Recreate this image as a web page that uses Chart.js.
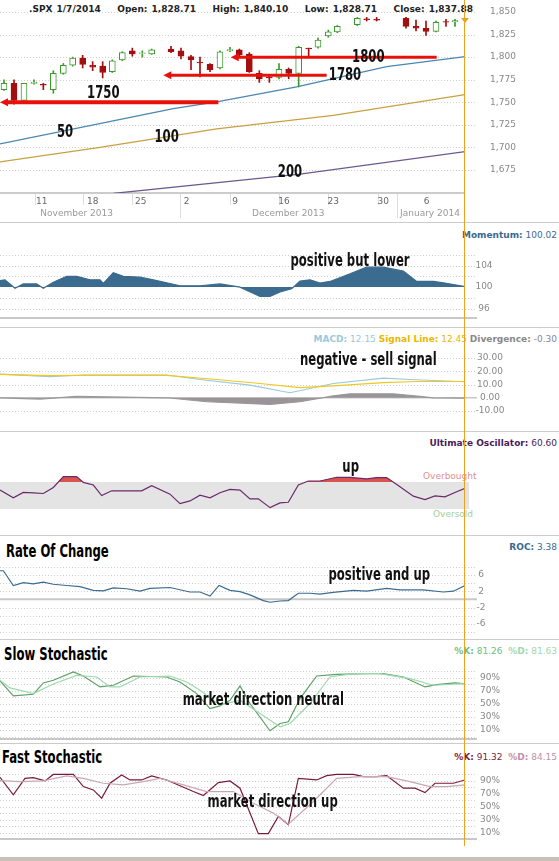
<!DOCTYPE html>
<html>
<head>
<meta charset="utf-8">
<script src="https://cdn.jsdelivr.net/npm/chart.js@4"></script>
<style>
body{margin:0;background:#fff;width:559px;height:861px;position:relative;overflow:hidden;font-family:"DejaVu Sans",Verdana,sans-serif}
canvas{position:absolute;left:0}
.t{position:absolute;font-size:9px;white-space:nowrap}
.r{right:2px}
.h{position:absolute;left:0;width:559px;height:1px;background:#ccc}
.title{position:absolute;left:6px;font:bold 18px "DejaVu Sans Condensed","DejaVu Sans",sans-serif;transform:scaleX(0.72);transform-origin:0 0;white-space:nowrap}
</style>
</head>
<body>
<div class="t" style="left:29px;top:4px;font-weight:bold;color:#222;word-spacing:1px">.SPX 1/7/2014 &nbsp;&nbsp;&nbsp;Open: 1,828.71 &nbsp;&nbsp;&nbsp;High: 1,840.10 &nbsp;&nbsp;&nbsp;Low: 1,828.71 &nbsp;&nbsp;&nbsp;Close: 1,837.88</div>
<div class="t r" style="top:230px;color:#3a6a8f"><b>Momentum:</b> 100.02</div>
<div class="t r" style="top:334px"><b style="color:#9cc8dc">MACD:</b> <span style="color:#9cc8dc">12.15</span> <b style="color:#e8b800">Signal Line:</b> <span style="color:#e8b800">12.45</span> <b style="color:#888">Divergence:</b> <span style="color:#888">-0.30</span></div>
<div class="t r" style="top:438px;color:#4a1d5a"><b>Ultimate Oscillator:</b> 60.60</div>
<div class="t r" style="top:542px;color:#3a6a8f"><b>ROC:</b> 3.38</div>
<div class="t r" style="top:646px;color:#6cbf7c"><b>%K:</b> 81.26 &nbsp;<b style="color:#9fd8b0">%D:</b> <span style="color:#9fd8b0">81.63</span></div>
<div class="t r" style="top:752px;color:#7a1a3a"><b>%K:</b> 91.32 &nbsp;<b style="color:#c090a8">%D:</b> <span style="color:#c090a8">84.15</span></div>
<div class="title" style="top:540px">Rate Of Change</div>
<div class="title" style="top:643px;left:4px">Slow Stochastic</div>
<div class="title" style="top:746px;left:2px">Fast Stochastic</div>
<div class="t" style="left:423px;top:471px;color:#e09090">Overbought</div>
<div class="t" style="left:433px;top:509px;color:#a8cf98">Oversold</div>
<div class="h" style="top:222px"></div>
<div class="h" style="top:327px"></div>
<div class="h" style="top:431px"></div>
<div class="h" style="top:535px"></div>
<div class="h" style="top:639px"></div>
<div class="h" style="top:743px"></div>
<div style="position:absolute;left:0;top:857px;width:559px;height:4px;background:#c8c0b4"></div>
<div style="position:absolute;left:464px;top:0;width:1px;height:846px;background:#f0a020;z-index:5"></div>
<div style="position:absolute;left:461px;top:18px;width:0;height:0;border-left:4px solid transparent;border-right:4px solid transparent;border-top:5px solid #f0a020;z-index:5"></div>

<canvas id="price" width="559" height="218" style="top:0"></canvas>
<canvas id="mom" width="559" height="77" style="top:242px"></canvas>
<canvas id="macd" width="559" height="79" style="top:345px"></canvas>
<canvas id="uo" width="559" height="80" style="top:450px"></canvas>
<canvas id="roc" width="559" height="76" style="top:563px"></canvas>
<canvas id="slow" width="559" height="72" style="top:668px"></canvas>
<canvas id="fast" width="559" height="70" style="top:770px"></canvas>

<script>
// x positions are slot positions along the time axis (0 .. 1395 across the plot)
var candlePos = [12,42,72,102,130,160,190,218,248,278,308,337,367,397,427,455,513,543,573,600,630,660,690,718,748,778,808,837,866,896,926,954,985,1012,1072,1100,1130,1218,1248,1278,1308,1338,1365];
var candleOpen = [1764,1771,1752,1771,1770,1764,1782,1791,1799,1791,1790,1784,1797,1807,1804,1803.5,1809,1807,1800.5,1794.5,1792,1788,1807,1808,1803.5,1782,1778,1777.5,1786.5,1782,1810,1811,1823.5,1828,1836,1842.5,1842,1843,1834,1832,1828.5,1839.5,1839];
var candleClose = [1771,1752,1771,1772,1769,1782,1791,1799,1792,1789,1783,1796,1805,1803.5,1804.5,1808,1806,1801,1797,1794,1786,1806,1808.5,1802.5,1784,1776,1777,1786.5,1782,1811,1809,1819,1828,1834,1843,1841.5,1841,1834,1832,1828.5,1838.5,1839,1840.5];
var candleHigh = [1775,1775,1771,1775,1771,1785,1793,1800,1802,1795,1795,1797,1806,1810,1807,1809,1812,1810,1802,1800,1793,1807,1811,1809,1805,1785,1780,1793,1788,1812,1810,1821,1830,1835,1844,1844,1844,1844,1841,1840,1840,1842,1842];
var candleLow = [1763,1748,1751,1770,1764,1760,1781,1790,1788,1785,1777,1783,1796,1801,1800,1803,1805,1798,1786,1778,1784,1787,1806,1801,1783,1772,1772,1776,1776,1767,1801,1810,1822,1827,1835,1840,1840,1832,1829,1824,1828,1834,1834];

var ma50Pos = [0,520,650,890,1160,1395];
var ma50 = [1704,1743,1750.4,1767,1789.4,1800.5];
var ma100Pos = [0,300,650,1000,1395];
var ma100 = [1684,1700,1720.6,1735.5,1758.5];
var ma200Pos = [340,900,1395];
var ma200 = [1649,1670.5,1695.4];

var priceTicks = [1850,1825,1800,1775,1750,1725,1700,1675];
var dayPos = [125,278,422,560,705,852,1000,1150,1280];
var dayLabels = ['11','18','25','2','9','16','23','30','6'];
var weekLinePos = [105,250,395,540,690,838,985,1135,1190];
var monthPos = [230,865,1290];
var monthLabels = ['November 2013','December 2013','January 2014'];

var momPos = [0,15,45,70,110,130,160,200,230,270,300,310,340,370,420,460,540,600,660,720,780,810,840,875,900,930,960,990,1050,1100,1150,1210,1250,1300,1330,1395];
var momVal = [101.2,101.35,99.8,100.6,100.6,99.8,100.9,102,102,101.35,101.35,100.7,102.65,102,101.85,101.35,100.25,100.25,100.6,100,98.3,98.3,99.1,99.7,101.1,101.35,100.75,101.05,102.45,103.7,103.7,102.95,101.05,101.05,100.8,100.1];

var macdPos = [0,150,250,500,600,750,870,1000,1150,1230,1395];
var macdVal = [17.9,15.9,17.2,17.2,13.8,9.5,3.8,10.8,14.9,13.8,12.1];
var sigPos = [0,150,250,500,650,780,900,1000,1150,1250,1395];
var sigVal = [17.7,16.7,16.9,16.9,13.8,10.8,7.7,9.0,11.5,12.3,12.3];
var divPos = [0,120,230,500,620,810,900,1000,1050,1180,1260,1300,1395];
var divVal = [0,-1,1,0,-3,-5,-3,1.5,3,3,1,0,-0.3];

var uoPos = [0,40,70,100,130,160,190,230,250,280,305,335,365,425,455,510,540,570,600,630,660,690,720,750,775,810,840,865,895,925,960,1010,1050,1100,1130,1160,1200,1240,1275,1305,1335,1370,1395];
var uoVal = [58,46.5,54.5,54,53,62,78,78,69.5,65.5,50,57,57,57,64.5,52,38,42,50.5,46.5,54,59,58,45,45,32,39,40,65.5,71.5,71.5,77,77,74.5,76.5,76.5,63,49,44,49.5,48,55.5,60.5];

var rocPos = [0,10,40,70,100,130,160,200,240,280,310,340,380,420,450,510,570,600,630,657,690,720,750,790,810,840,865,895,930,960,1000,1060,1100,1160,1200,1270,1330,1360,1395];
var rocVal = [7,7,3.4,4.1,3.8,4.2,3.7,3.4,3.1,2.2,2.1,2.8,2.6,2.0,2.7,2.9,1.8,1.8,0.8,3.4,2.2,1.9,1.1,-0.3,-0.7,-0.4,-0.3,1.5,1.5,1.3,1.7,2.2,2.0,2.7,2.3,2.3,1.8,2.0,3.4];

var slowKPos = [0,40,100,130,160,220,250,300,340,400,500,540,590,630,660,690,720,750,810,840,865,900,950,1010,1100,1150,1210,1275,1310,1365,1395];
var slowK = [85.4,62.4,65,82.3,86.4,99.2,93,76.2,78.8,93,91.5,83.9,66,43,47,55.8,77.8,50.7,8.9,20,22.6,58.4,93,95.6,96.6,96.6,91.5,76.2,79.8,82.3,80.8];
var slowDPos = [0,30,100,160,230,290,330,360,420,510,560,600,660,720,780,840,870,930,990,1060,1140,1230,1300,1395];
var slowD = [86.4,74.7,66,80.7,94,91.5,76.2,76.2,91.5,93,83.9,71.1,48.2,55.8,35.4,15,20,50.7,91.5,96.6,96.6,89,78.8,81.3];

var fastKPos = [0,40,75,100,135,160,220,250,280,305,330,365,390,425,455,500,580,610,655,690,720,775,805,835,865,895,950,980,1010,1060,1090,1130,1160,1210,1245,1275,1305,1360,1395];
var fastK = [95.6,68.6,94,95,90,100,100,81.3,76.2,63.5,86.4,99.2,91.5,91.5,97.7,91.5,73.7,67.6,87.4,90,78.8,9,9,35.4,22.6,94,91.5,98.2,100,100,96.6,96.6,98.2,78.8,78.8,72.1,86.4,86.4,91.5];
var fastDPos = [0,60,130,200,250,310,370,430,480,550,620,700,760,820,865,940,1010,1080,1160,1230,1290,1340,1395];
var fastD = [90.5,89,90,97.7,94,86.4,83.9,89,94,83.9,73.7,73.7,55.8,40.5,23.6,58.4,94,96.6,96.6,89,81.3,81.3,83.9];

var noteFont = 'bold 18px "DejaVu Sans Condensed","DejaVu Sans",sans-serif';

function pts(xs, ys){
    return xs.map(function(x, i){ return {x: x, y: ys[i]}; });
}

function line(xs, ys, color, extra){
    var d = {type: 'line', data: pts(xs, ys), borderColor: color, borderWidth: 1.2,
        pointRadius: 0, tension: 0, fill: false};
    for (var k in extra) d[k] = extra[k];
    return d;
}

/**
 * draws grid lines, right side labels, notes and arrows for one panel
 */
function decoPlugin(deco){
    return {
        id: 'deco',
        beforeDatasetsDraw: function(chart){
            var c = chart.ctx, a = chart.chartArea, y = chart.scales.y, x = chart.scales.x;
            c.save();
            if (deco.band){
                var t = y.getPixelForValue(deco.band[0]), b = y.getPixelForValue(deco.band[1]);
                c.fillStyle = '#e4e4e4';
                c.fillRect(a.left, t, a.right - a.left + 4, b - t);
            }
            c.strokeStyle = '#d0d0d0';
            c.lineWidth = 1;
            c.setLineDash([1, 2]);
            (deco.grid || []).forEach(function(v){
                var p = Math.round(y.getPixelForValue(v)) + 0.5;
                c.beginPath(); c.moveTo(a.left, p); c.lineTo(a.right + 12, p); c.stroke();
            });
            c.setLineDash([]);
            if (deco.zero !== undefined){
                var z = y.getPixelForValue(deco.zero);
                c.strokeStyle = '#c8c8c8'; c.lineWidth = deco.zeroWidth || 1;
                c.beginPath(); c.moveTo(a.left, z); c.lineTo(a.right + 12, z); c.stroke();
            }
            if (deco.bottomLine){
                c.strokeStyle = '#c8c8c8'; c.lineWidth = 2;
                c.beginPath(); c.moveTo(a.left, a.bottom - 1); c.lineTo(a.right + 12, a.bottom - 1); c.stroke();
            }
            c.fillStyle = '#888';
            c.font = '9px "DejaVu Sans", Verdana, sans-serif';
            c.textBaseline = 'middle';
            c.textAlign = 'center';
            (deco.ticks || []).forEach(function(v, i){
                c.fillText(deco.tickLabels[i], deco.labelX || 497, y.getPixelForValue(v));
            });
            if (deco.dates){
                c.textBaseline = 'alphabetic';
                c.strokeStyle = '#ddd';
                weekLinePos.forEach(function(p){
                    var px = Math.round(x.getPixelForValue(p)) + 0.5;
                    c.beginPath(); c.moveTo(px, a.bottom); c.lineTo(px, a.bottom + (p == 540 || p == 1190 ? 25 : 12)); c.stroke();
                });
                c.strokeStyle = '#ccc'; c.lineWidth = 2;
                c.beginPath(); c.moveTo(a.left, a.bottom); c.lineTo(a.right, a.bottom); c.stroke();
                c.fillStyle = '#666';
                dayPos.forEach(function(p, i){ c.fillText(dayLabels[i], x.getPixelForValue(p), a.bottom + 11); });
                c.fillStyle = '#999';
                monthPos.forEach(function(p, i){ c.fillText(monthLabels[i], x.getPixelForValue(p), a.bottom + 23); });
            }
            c.restore();
        },
        afterDatasetsDraw: function(chart){
            var c = chart.ctx, y = chart.scales.y, x = chart.scales.x;
            c.save();
            (deco.arrows || []).forEach(function(ar){
                var x1 = x.getPixelForValue(ar[0]), x2 = x.getPixelForValue(ar[1]), py = y.getPixelForValue(ar[2]);
                c.strokeStyle = '#e8100a'; c.fillStyle = '#e8100a'; c.lineWidth = ar[3];
                c.beginPath(); c.moveTo(x1 + 6, py); c.lineTo(x2, py); c.stroke();
                c.beginPath(); c.moveTo(x1, py); c.lineTo(x1 + 8, py - 4); c.lineTo(x1 + 8, py + 4); c.closePath(); c.fill();
            });
            c.fillStyle = '#111';
            c.font = noteFont;
            c.textAlign = 'center';
            c.textBaseline = 'middle';
            (deco.notes || []).forEach(function(n){
                c.save();
                c.translate(x.getPixelForValue(n[0]), y.getPixelForValue(n[1]));
                c.scale(0.72, 1);
                c.fillText(n[2], 0, 0);
                c.restore();
            });
            c.restore();
        }
    };
}

function panel(id, type, datasets, ymin, ymax, deco, bottomPad, topPad){
    return new Chart(document.getElementById(id), {
        type: type,
        data: {datasets: datasets},
        options: {
            responsive: false,
            animation: false,
            layout: {padding: {left: 0, right: 94, top: topPad || 0, bottom: bottomPad || 0}},
            plugins: {legend: {display: false}, tooltip: {enabled: false}},
            scales: {
                x: {type: 'linear', min: 0, max: 1395, display: false, offset: false},
                y: {min: ymin, max: ymax, display: false}
            }
        },
        plugins: [decoPlugin(deco)]
    });
}

// price panel
var green = '#3c9a2c', red = '#a30f10';
var bodies = [], wicks = [], bodyFill = [], bodyLine = [], wickColor = [];
candlePos.forEach(function(p, i){
    var up = candleClose[i] >= candleOpen[i];
    var o = candleOpen[i], c = candleClose[i];
    if (Math.abs(o - c) < 0.8) c = o + (up ? 0.8 : -0.8);
    bodies.push({x: p, y: [o, c]});
    wicks.push({x: p, y: [candleLow[i], candleHigh[i]]});
    bodyFill.push(up ? '#ffffff' : red);
    bodyLine.push(up ? green : red);
    wickColor.push(up ? green : red);
});
panel('price', 'bar', [
    {type: 'bar', data: bodies, backgroundColor: bodyFill, borderColor: bodyLine, borderWidth: 1,
        barThickness: 6, grouped: false, order: 1, borderSkipped: false},
    {type: 'bar', data: wicks, backgroundColor: wickColor, borderWidth: 0,
        barThickness: 1, grouped: false, order: 2},
    line(ma50Pos, ma50, '#4a86b0', {order: 3}),
    line(ma100Pos, ma100, '#c8a040', {order: 3}),
    line(ma200Pos, ma200, '#6a5a90', {order: 3})
], 1649.5, 1863.3, {
    grid: priceTicks,
    ticks: priceTicks,
    tickLabels: priceTicks.map(function(v){ return v.toLocaleString('en-US'); }),
    labelX: 503,
    dates: true,
    arrows: [[0, 655, 1750, 4], [490, 980, 1780, 3], [692, 1310, 1800, 3]],
    notes: [[310, 1760, '1750'], [1035, 1780, '1780'], [1105, 1800, '1800'],
        [195, 1717, '50'], [500, 1711, '100'], [870, 1672, '200']]
}, 25);

panel('mom', 'line', [
    line(momPos, momVal, '#3b6b8e', {backgroundColor: '#3b6b8e',
        fill: {target: {value: 100}, above: '#3b6b8e', below: '#3b6b8e'}})
], 94.1, 106.5, {
    grid: [106, 104, 102, 98, 96], ticks: [104, 100, 96], tickLabels: ['104', '100', '96'],
    labelX: 484, bottomLine: true,
    notes: [[1050, 104.7, 'positive but lower']]
}, 0, 10);

panel('macd', 'line', [
    line(divPos, divVal, '#999', {backgroundColor: '#9a9498', fill: {target: {value: 0}, above: '#9a9498', below: '#9a9498'}}),
    line(sigPos, sigVal, '#f0c820'),
    line(macdPos, macdVal, '#9cc8dc')
], -19.8, 32.3, {
    grid: [30, 20, 10, -10, -20], zero: 0, zeroWidth: 1.5,
    ticks: [30, 20, 10, 0, -10], tickLabels: ['30.00', '20.00', '10.00', '0.00', '-10.00'],
    labelX: 490,
    notes: [[1105, 28, 'negative - sell signal']]
}, 0, 10);

panel('uo', 'line', [
    line(uoPos, uoVal, '#6b2a6b', {fill: {target: {value: 70}, above: '#d9534f', below: 'rgba(0,0,0,0)'}})
], -1.1, 102.6, {
    band: [70, 30],
    notes: [[1052, 92, 'up']]
}, 0, 10);

panel('roc', 'line', [
    line(rocPos, rocVal, '#3b6b8e')
], -9.7, 8.9, {
    grid: [8, 6, 4, 2, -2, -4, -6, -8], zero: 0, zeroWidth: 2,
    ticks: [6, 2, -2, -6], tickLabels: ['6', '2', '-2', '-6'], labelX: 481,
    notes: [[1138, 6, 'positive and up']]
});

var pctTicks = [90, 70, 50, 30, 10];
var pctLabels = ['90%', '70%', '50%', '30%', '10%'];
panel('slow', 'line', [
    line(slowDPos, slowD, '#9fd8b0'),
    line(slowKPos, slowK, '#5aa060')
], -5.3, 105.3, {
    grid: [100, 90, 80, 70, 60, 50, 40, 30, 20, 10, 0], ticks: pctTicks, tickLabels: pctLabels, labelX: 490,
    bottomLine: true,
    notes: [[790, 55, 'market direction neutral']]
});

panel('fast', 'line', [
    line(fastDPos, fastD, '#c8a8b0'),
    line(fastKPos, fastK, '#7a1a3a')
], -0.8, 106.8, {
    grid: [100, 90, 80, 70, 60, 50, 40, 30, 20, 10, 0], ticks: pctTicks, tickLabels: pctLabels, labelX: 490,
    bottomLine: true,
    notes: [[818, 57, 'market direction up']]
});
</script>
</body>
</html>
